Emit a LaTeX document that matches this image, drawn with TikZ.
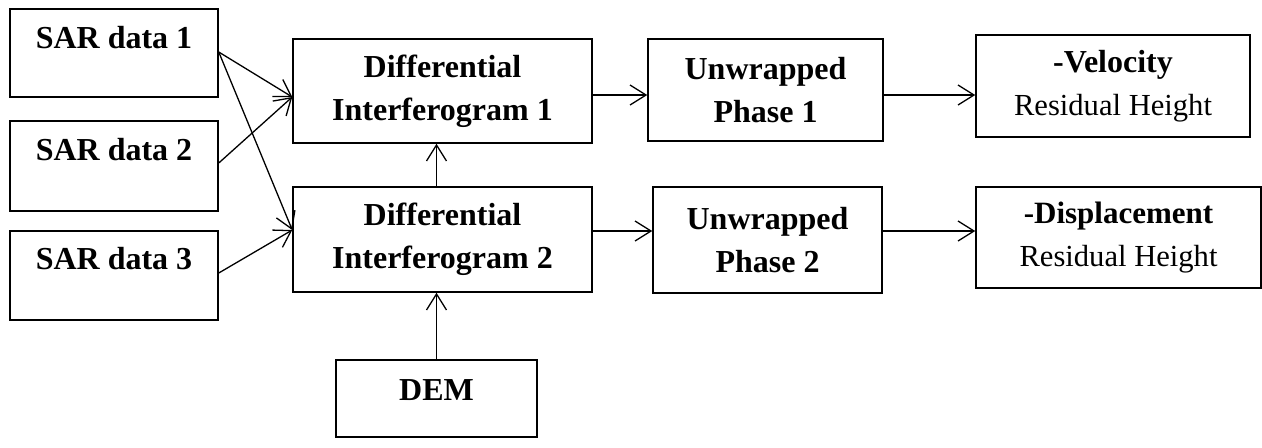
\documentclass[tikz,border=0pt]{standalone}
\usepackage{fontspec}
\setmainfont{Liberation Serif}
\usetikzlibrary{arrows.meta}
\begin{document}
\begin{tikzpicture}[x=0.5pt,y=-0.5pt,
  box/.style={draw, line width=0.75pt, inner sep=0pt, align=center,
    font=\fontsize{16}{21.5}\selectfont},
  reg/.style={font=\fontsize{15.3}{21.5}\selectfont},
  arr/.style={line width=0.65pt, -{Straight Barb[length=8pt,width=10pt]}}]
\useasboundingbox (0,0) rectangle (1262,447);
% input boxes
\node[box, minimum width=104pt, minimum height=44pt, text height=11pt, text depth=16pt] (sar1) at (114,53) {\bfseries SAR data 1};
\node[box, minimum width=104pt, minimum height=45pt, text height=11pt, text depth=17pt] (sar2) at (114,166) {\bfseries SAR data 2};
\node[box, minimum width=104pt, minimum height=44.5pt, text height=11pt, text depth=17.5pt] (sar3) at (114,275.5) {\bfseries SAR data 3};
% interferograms
\node[box, minimum width=149.5pt, minimum height=52pt] (dif1) at (442.5,91) {\bfseries Differential\\\bfseries Interferogram 1};
\node[box, minimum width=149.5pt, minimum height=52.5pt] (dif2) at (442.5,239.5) {\bfseries Differential\\\bfseries Interferogram 2};
\node[box, minimum width=100.5pt, minimum height=38.5pt, text height=11pt, text depth=9.5pt] (dem) at (436.5,398.5) {\bfseries DEM};
% unwrapped
\node[box, minimum width=117.5pt, minimum height=51pt] (unw1) at (765.5,90) {\bfseries Unwrapped\\\bfseries Phase 1};
\node[box, minimum width=114.5pt, minimum height=53pt] (unw2) at (767.5,240) {\bfseries Unwrapped\\\bfseries Phase 2};
% outputs
\node[box, minimum width=137pt, minimum height=51pt] (vel) at (1113,86) {\bfseries -Velocity\\\fontsize{15.3}{21.5}\selectfont\mdseries Residual Height};
\node[box, minimum width=142.5pt, minimum height=50.5pt] (disp) at (1118.5,237.5) {\fontsize{15.5}{21.5}\selectfont\bfseries -Displacement\\\fontsize{15.3}{21.5}\selectfont\mdseries Residual Height};
% connectors
\draw[arr] ([yshift=0.5pt]sar1.east) -- ([yshift=-3pt]dif1.west);
\draw[arr] ([yshift=0.5pt]sar1.east) -- ([yshift=4.75pt]dif2.west);
\draw[arr] ([yshift=1.5pt]sar2.east) -- ([yshift=-3pt]dif1.west);
\draw[arr] ([yshift=1.25pt]sar3.east) -- ([yshift=4.75pt]dif2.west);
\draw[arr] (dem.north) -- (dem.north |- dif2.south);
\draw[arr] (dif2.north -| dem.north) -- (dif1.south -| dem.north);
\draw[arr] ([yshift=-2pt]dif1.east) -- ([yshift=-2pt]dif1.east -| unw1.west);
\draw[arr] ([yshift=4.25pt]dif2.east) -- ([yshift=4.25pt]dif2.east -| unw2.west);
\draw[arr] ([yshift=-2.5pt]unw1.east) -- ([yshift=-2.5pt]unw1.east -| vel.west);
\draw[arr] ([yshift=4.5pt]unw2.east) -- ([yshift=4.5pt]unw2.east -| disp.west);
\end{tikzpicture}
\end{document}
